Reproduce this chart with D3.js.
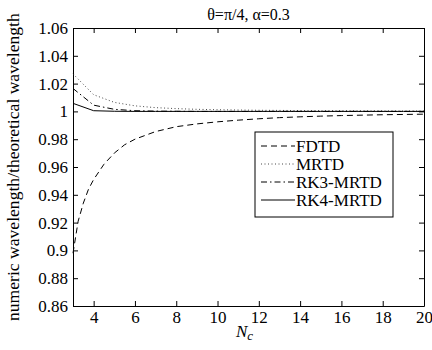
<!DOCTYPE html>
<html><head><meta charset="utf-8">
<script src="https://cdn.jsdelivr.net/npm/d3@7"></script>
<style>body{margin:0;background:#fff}svg{display:block}svg text{font-family:'Liberation Serif','DejaVu Serif',serif !important;fill:#000}</style>
</head><body>
<script>
const title = "θ=π/4, α=0.3";
const yLabel = "numeric wavelength/theoretical wavelength";
const xTicks = [4,6,8,10,12,14,16,18,20];
const yTicks = [0.86,0.88,0.9,0.92,0.94,0.96,0.98,1,1.02,1.04,1.06];
const yTickLabels = ["0.86","0.88","0.9","0.92","0.94","0.96","0.98","1","1.02","1.04","1.06"];
const seriesNames = ["FDTD","MRTD","RK3-MRTD","RK4-MRTD"];
const fdtdX = [3,3.25,3.5,3.75,4,4.5,5,5.5,6,7,8,9,10,11,12,13,14,15,16,17,18,19,20];
const fdtdY = [0.898,0.921,0.934,0.944,0.951,0.962,0.970,0.976,0.980,0.9855,0.989,0.991,0.9925,0.9937,0.9947,0.9955,0.9961,0.9966,0.997,0.9973,0.9976,0.9978,0.998];
const nc = [3,4,5,6,7,8,9,10,11,12,13,14,15,16,17,18,19,20];
const mrtdY = [1.027,1.012,1.0065,1.004,1.0027,1.002,1.0015,1.0012,1.001,1.0008,1.0007,1.0006,1.0005,1.0005,1.0004,1.0004,1.0003,1.0003];
const rk3Y = [1.0165,1.0045,1.0015,1.0005,1.0002,1.0001,1,1,1,1,1,1,1,1,1,1,1,1];
const rk4Y = [1.0058,1.0005,1.0001,1,1,1,1,1,1,1,1,1,1,1,1,1,1,1];

const W=432,H=350, L=73,R=424,T=28,B=306;
const svg=d3.select("body").append("svg").attr("width",W).attr("height",H);
const x=d3.scaleLinear().domain([3,20]).range([L,R]);
const y=d3.scaleLinear().domain([0.86,1.06]).range([B,T]);

const fs=17;
const gB=svg.append("g").attr("transform",`translate(0,${B})`)
  .call(d3.axisBottom(x).tickValues(xTicks).tickSizeInner(-5).tickSizeOuter(0).tickPadding(5));
const gT=svg.append("g").attr("transform",`translate(0,${T})`)
  .call(d3.axisTop(x).tickValues(xTicks).tickSizeInner(-5).tickSizeOuter(0).tickFormat(""));
const gL=svg.append("g").attr("transform",`translate(${L},0)`)
  .call(d3.axisLeft(y).tickValues(yTicks).tickSizeInner(-5).tickSizeOuter(0).tickPadding(5).tickFormat((d,i)=>yTickLabels[i]));
const gR=svg.append("g").attr("transform",`translate(${R},0)`)
  .call(d3.axisRight(y).tickValues(yTicks).tickSizeInner(-5).tickSizeOuter(0).tickFormat(""));
[gB,gT,gL,gR].forEach(g=>{
  g.attr("font-family",null).attr("font-size",null);
  g.selectAll("path.domain").attr("stroke","#000").attr("stroke-width",1);
  g.selectAll(".tick line").attr("stroke","#000").attr("stroke-width",1);
  g.selectAll("text").attr("font-size",fs);
});

const line=d3.line().x(d=>x(d[0])).y(d=>y(d[1]));
const styles=[
  {dash:"6,4",w:1,c:"#000"},
  {dash:"1,2.5",w:0.9,c:"#333"},
  {dash:"6,3,1.5,3",w:1,c:"#000"},
  {dash:null,w:1,c:"#000"}
];
const data=[
  fdtdX.map((v,i)=>[v,fdtdY[i]]),
  nc.map((v,i)=>[v,mrtdY[i]]),
  nc.map((v,i)=>[v,rk3Y[i]]),
  nc.map((v,i)=>[v,rk4Y[i]])
];
data.forEach((d,i)=>{
  svg.append("path").attr("d",line(d)).attr("fill","none")
    .attr("stroke",styles[i].c).attr("stroke-width",styles[i].w)
    .attr("stroke-dasharray",styles[i].dash);
});

svg.append("text").attr("x",(L+R)/2).attr("y",20).attr("text-anchor","middle").attr("font-size",16).text(title);
const xl=svg.append("text").attr("x",(L+R)/2 - 4).attr("y",337).attr("text-anchor","middle").attr("font-size",17).attr("font-style","italic");
xl.append("tspan").text("N");
xl.append("tspan").attr("font-size",13).attr("dy",3).text("c");
svg.append("text").attr("transform","translate(19,321) rotate(-90)").attr("text-anchor","start").attr("font-size",17.6).text(yLabel);

const lg=svg.append("g");
lg.append("rect").attr("x",255).attr("y",132).attr("width",138).attr("height",85).attr("fill","#fff").attr("stroke","#000").attr("stroke-width",1);
seriesNames.forEach((n,i)=>{
  const cy=146+i*18;
  lg.append("line").attr("x1",261).attr("x2",295).attr("y1",cy).attr("y2",cy)
    .attr("stroke",styles[i].c).attr("stroke-width",styles[i].w).attr("stroke-dasharray",styles[i].dash);
  lg.append("text").attr("x",296).attr("y",cy+6).attr("font-size",17).text(n);
});
</script>
</body></html>
